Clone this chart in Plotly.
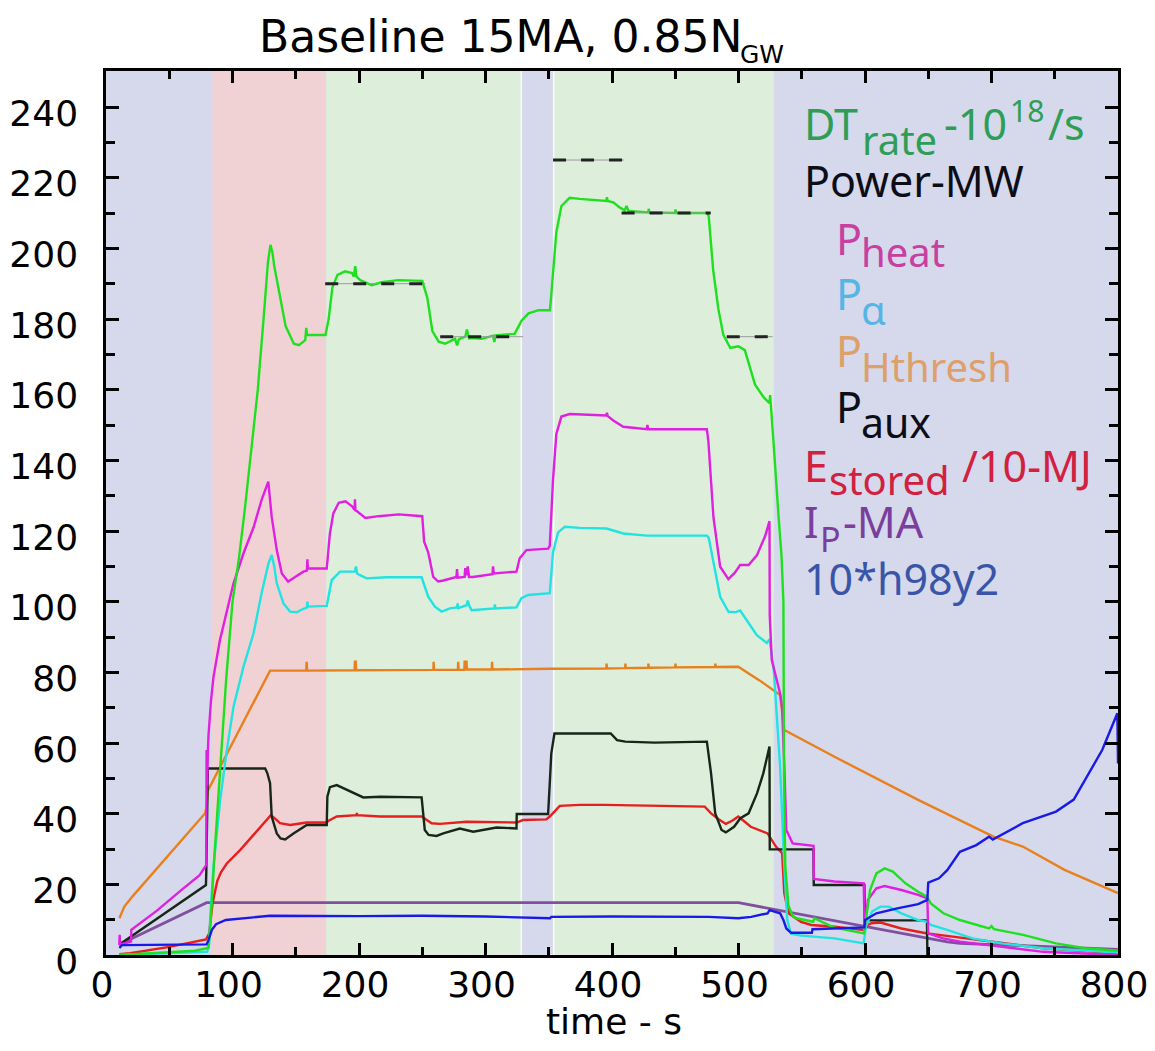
import plotly.graph_objects as go

# ---------------- data (time in s, values in axis units) ----------------
phase_edges = [0, 84, 174, 328.3, 353.9, 528, 800]
phase_names = ["ramp", "heat", "flat", "ramp", "flat", "ramp"]

dt_rate = [(11,0),(40,0.5),(70,1.2),(81,2),(82.5,8),(85.5,27),(90,50),(95,78),(100,100),(105,112),(110,127),
           (115,143),(120,160),(125,182),(128,196),(130,201),(131.5,199),(133,195),(137,187),(142,178),(148.5,173),
           (152.5,172.6),(157.5,174),(158.3,177.5),(159,175.5),(165,175.5),(173.5,175.5),(176,180),(179,189),
           (183,192.5),(189,193.5),(194.5,193),(196,192),(197,195),(198,192),(201,191),(210,189.6),(218,190.4),
           (231,191),(250,190.8),(254,186),(258,176.6),(263,173.6),(268,173),(276,174.4),(277.5,172.5),(279,174.3),
           (284,175),(285.3,177),(287,174.5),(289,174.6),(297,174.4),(306,175.3),(307,173.5),(308,175.4),(323,175.8),
           (328.5,179.5),(334,181.6),(342,182.5),(351,182.5),(353.4,192.8),(356,204.6),(360,212),(366.5,214.3),
           (374.5,214),(395.5,213.4),(396,214.5),(396.5,213.4),(401,213),(406,211.6),(410,210.8),(411.5,212),
           (413,210.6),(428.7,210.2),(429,211.2),(429.5,210.2),(449.8,210),(450.2,211),(450.8,210),(475.5,210),
           (476.5,209),(480,193.8),(484,183),(488,175.5),(493.5,171.8),(500,172.3),(505,171.2),(513,161.5),
           (520,157.8),(524.5,156.2),(525,158.5),(525.5,155.5),(527.7,145),(531.7,124),(534,113),(535.5,100),
           (536,50),(537,25),(539.5,14),(542.8,11),(546,10.4),(559,9.4),(560,10.4),(575,7.8),(592,6.6),(599,6.1),
           (600.7,9.9),(604,18.4),(609,23.1),(615.5,24.5),(622,23.6),(632,20.3),(642,17.9),(649,16.5),(652,14.6),
           (662,11.8),(675,9.9),(698,7.5),(700,8.2),(702,7.3),(725,5.7),(751,3.3),(774,1.9),(800,1.2)]

p_heat = [(10.5,2.8),(10.8,5.7),(11.2,3.0),(19.8,3.8),(20,7.1),(40,12.5),(60,18.5),(74,22.6),(79.3,25.5),
          (79.5,58),(80,48),(80.5,57),(81,62),(83,72),(85,78.8),(90,89),(95.5,97.6),(100.8,105.2),(108.7,113.7),
          (116.6,121),(123,128.8),(126.5,132.5),(128.3,134),(131,124),(135,114.6),(139,108),(144,105.7),
          (148,106.6),(156,108.5),(158.8,108.8),(159.2,112),(159.6,109.4),(174.5,109.4),(177,119.3),(179.7,125),
          (184,128),(189.3,128.4),(194.5,127),(196.5,126),(196.8,129),(197.2,125.8),(198.5,125.6),(205,123.7),
          (215.6,124.2),(231.4,124.7),(250,124.2),(251.5,117),(254.7,114),(258.7,107),(262.6,105.7),(266.6,106),
          (277,107),(277.5,109.2),(278,106.8),(283.5,107),(284,109.5),(285,107.5),(286,110),(287,107),(290,107),
          (305.5,107.8),(306,110),(306.5,108),(324.5,108.5),(327,112.3),(332.4,114.6),(349.5,115),(350.8,115.8),
          (353.4,134.6),(356,147.5),(360,152.4),(366.6,153.1),(395.5,152.7),(396,153.5),(396.5,152.6),(401,151.3),
          (408.9,149.5),(427.4,148.8),(428,150),(428.5,148.8),(475,148.8),(476.2,145.4),(480.2,123.9),
          (485.5,109.9),(492,106.4),(497.3,108.3),(501.3,110.4),(508,110.4),(514.5,113.1),(521,118.5),
          (524.5,122.8),(524.7,96),(526.3,83.5),(532.9,74),(534.5,70),(536.2,53.3),(537.8,35.4),(542.8,31.6),
          (559.3,30.9),(559.6,21.5),(575.9,20.8),(599,20.3),(599.7,7.1),(602.3,15.6),(609,18.9),(615.5,19.5),
          (628.8,18.4),(642,17),(649.3,16),(650,6.1),(661.8,4.7),(675,3.8),(708,2.4),(741,0.9),(800,0)]

p_alpha = [(11.3,0),(50,0.4),(80,0.9),(81.5,3),(82.4,10.8),(85,25),(90.3,43.9),(95.5,58),(100.8,70.3),
           (108.7,81.6),(116.6,91),(123,102.4),(128.4,110.8),(131,113.2),(133,110),(135,105.2),(140.3,99.5),
           (145.5,97.2),(150.8,97),(156,98),(158.8,98.3),(159.2,100),(159.6,98.6),(174.5,98.8),(178.4,106.1),
           (185,108.5),(192.9,108.5),(196.8,108.5),(197.6,110),(198.5,108),(200.8,107.5),(206,106.6),
           (221.8,106.9),(249.5,106.9),(254.7,101.4),(260,98.6),(265.3,97.2),(271.8,98.1),(277.5,98.4),(278,99.5),
           (278.5,98.2),(285,99),(286,100.3),(287,99),(289,97.6),(307,98.1),(307.4,99.2),(307.8,98.1),(324.5,98.4),
           (328.4,101),(333.7,101.9),(350.8,102.4),(353.4,114),(357.4,119.6),(362.7,121.2),(374.6,120.9),
           (395.7,120.7),(401,120.1),(408.9,119.3),(427.4,118.7),(475,118.7),(476.5,118),(480.2,111),
           (485.5,101.4),(492,97.2),(497.3,97),(501.3,97.5),(506.6,94.8),(514.5,90.5),(522.4,88.3),(524.5,89.4),
           (527.9,80.7),(529.6,72.2),(532.9,53.3),(536.2,25),(538.5,10),(541.5,6),(549.4,5.5),(559.3,5.2),
           (575.9,4.7),(599,3.3),(600.7,8),(605.6,12.3),(612.2,13.7),(618.8,13.7),(628.8,11.8),(642,9.9),
           (649.3,9.4),(652,8.5),(665,7.1),(685,4.7),(708,3.3),(741,1.9),(800,0.7)]

p_hthresh = [(10.6,10.4),(14.5,13.7),(21,16.6),(46,26.9),(78.4,40.1),(79.5,42),(80.5,46.5),(100,60),
             (129.7,80.5),(158.3,80.5),(158.6,83),(159,80.5),(196.5,80.6),(196.8,83),(197.5,83),(197.8,80.6),
             (258.8,80.7),(259,83),(259.3,80.7),(278.2,80.7),(278.4,83),(278.7,80.7),(283.3,80.7),(283.5,83),
             (285,83),(285.3,80.8),(305,80.8),(305.2,83),(305.5,80.8),(351,81),(395.5,81.1),(395.7,82.5),(396,81.1),
             (410.4,81.2),(410.6,82.5),(410.9,81.2),(428.6,81.3),(428.8,82.5),(429.1,81.3),(450,81.4),(450.2,82.5),
             (450.5,81.4),(481.5,81.5),(481.7,82.5),(482,81.5),(499.8,81.6),(516.3,77.8),(532.9,73.6),
             (536.2,63.7),(575.9,56.1),(642,43.9),(701.5,33.5),(724.7,30.7),(757.7,24.1),(800,17.5)]

p_aux = [(10.6,3.0),(79,19.8),(79.3,23.6),(80.5,52.8),(125.8,52.8),(127.5,51.5),(129.7,48.6),(131,39.2),
         (135,34.4),(138,33),(141.6,32.7),(148.2,34.4),(158.7,36.8),(174.5,36.8),(175,44.8),(177,47.5),
         (182.4,48.1),(190.3,46.7),(203.4,44.6),(216.6,44.8),(249.5,44.6),(252,35.4),(255,34),(261.3,33.7),
         (266.6,34.4),(279.7,35.8),(285,35.4),(290.3,34.9),(308.7,36.1),(324.5,35.8),(324.7,39.9),(349.5,39.9),
         (351,50),(352,57),(354.5,62.7),(399,62.7),(404,60.8),(410.5,60.4),(433.7,60.1),(475,60.4),(478.3,51.4),
         (481.6,40.1),(486.6,35.4),(490,34.7),(496.5,36.3),(501.5,38.7),(508,40.1),(514.7,45.8),(519.6,51.4),
         (524.5,59),(524.7,29.9),(559.3,29.9),(559.5,19.8),(599.5,19.8),(599.8,9.8),(649,9.8),(649.3,0)]

e_stored = [(10.6,0.2),(19,0.5),(50,2.3),(79,4.4),(81.5,6.1),(84.2,14.6),(88,21),(91,23.5),(95.5,25.9),
            (106,29.7),(116.6,34),(124.5,37.3),(130.3,39.6),(133,38.8),(137.6,37.3),(145.5,36.8),(158.7,37.5),
            (174.5,37.5),(176,38),(182.4,39.2),(198,39.6),(198.3,40.2),(198.6,39.6),(216.6,39.2),(249.5,39.2),
            (257.4,37.3),(264,37.1),(285,37.7),(307.4,37.5),(324.5,37.5),(329.7,38.2),(348,38.4),(350.8,39.2),
            (358.7,42.2),(374.5,42.5),(394,42.5),(473.3,42),(478.3,40.1),(484,38.5),(490,37.1),(495,38),
            (499.8,39.2),(504,38),(509.7,36.3),(523,34.4),(529.6,30.7),(534.5,28.8),(536.2,17.5),(539.5,11.8),
            (549.4,9.4),(557.5,8.5),(575.9,8),(599,7.1),(602.3,8.5),(605,9),(612.2,9.2),(628.8,7.5),(649.3,6.1),
            (658.5,5.7),(691.6,4.1),(741,1.9),(800,0.5)]

i_p = [(10.6,3.0),(79.5,14.8),(500,14.8),(542.8,11.9),(599,8.2),(642,5.2),(665,3.7),(675,3.3),(800,1.6)]

h98y2_x10 = [(10.6,2.0),(12.5,2.8),(79.5,3.0),(81,4.2),(83.7,7.1),(87,8.7),(94.7,9.9),(105,10.2),(119,10.8),
             (129.7,11.1),(200,11),(250,11.1),(300,10.9),(349.5,10.6),(351,10.4),(352,10.8),(400,10.9),
             (476.6,10.8),(499.8,10.4),(510,10.8),(523,11.8),(524.6,12.7),(532.9,11.8),(535.5,9.9),(537.8,7.5),
             (541.5,6.3),(558,6.3),(558.5,7.3),(597,7.8),(599.5,7.8),(600,9.9),(609,11.8),(625.5,13.2),(642,14.4),
             (649.3,15.6),(650,20.5),(658.5,21.7),(665,24),(675,29.2),(688,31.1),(698,33.5),(701,32.7),
             (724.7,37.3),(751,40.6),(765,44),(774,49.5),(787.5,58),(799.5,68.4),(800,54.2)]

# DT-rate targets: (t_start, t_end, value)
dt_targets = [(173.3, 252.4, 190), (264.2, 329.9, 175), (353.4, 409.4, 225), (407.6, 478, 210), (490.7, 527, 175)]

x_tick_vals = [0, 100, 200, 300, 400, 500, 600, 700, 800]
y_tick_vals = [0, 20, 40, 60, 80, 100, 120, 140, 160, 180, 200, 220, 240]

# ---------------- figure ----------------
L, R, T, Bm = 106, 37, 71, 96
FW, FH = 1155, 1051
W = FW - L - R
H = FH - T - Bm
BOT = FH - Bm
X_RANGE = [0, 800]
Y_RANGE = [0, 250.2]

phase_color = {"ramp": "#d5d9eb", "heat": "#f0d2d4", "flat": "#ddeedb"}

fig = go.Figure()
for i, name in enumerate(phase_names):
    fig.add_shape(type="rect", xref="x", yref="paper", x0=phase_edges[i], x1=phase_edges[i + 1], y0=0, y1=1,
                  fillcolor=phase_color[name], line=dict(width=0), layer="below")
for e in (phase_edges[3], phase_edges[4]):
    fig.add_shape(type="line", xref="x", yref="paper", x0=e, x1=e, y0=0, y1=1,
                  line=dict(color="rgba(255,255,255,0.85)", width=1.5), layer="below")

def add_series(pairs, color, width=2.4):
    fig.add_trace(go.Scatter(x=[p[0] for p in pairs], y=[p[1] for p in pairs], mode="lines",
                             line=dict(color=color, width=width), hoverinfo="skip"))

add_series(p_hthresh, "#e8801e")
add_series(i_p, "#80509f", 2.8)
add_series(e_stored, "#e61e1e")
add_series(p_aux, "#18261a")
add_series(p_alpha, "#22e3e0")
add_series(p_heat, "#e020e0")
add_series(dt_rate, "#1fe01f")
add_series(h98y2_x10, "#1a1ae8")

for t0, t1, v in dt_targets:
    fig.add_trace(go.Scatter(x=[t0, t1], y=[v, v], mode="lines",
                             line=dict(color="#9a9a9a", width=1), hoverinfo="skip"))
    fig.add_trace(go.Scatter(x=[t0, t1], y=[v, v], mode="lines",
                             line=dict(color="#222222", width=3, dash="13px,15px"), hoverinfo="skip"))

# dummy trace so the mirrored tick axes exist
fig.add_trace(go.Scatter(x=[None], y=[None], xaxis="x2", yaxis="y2", mode="lines", showlegend=False,
                         hoverinfo="skip"))

tick_font = dict(family="DejaVu Sans", size=36, color="black")
common = dict(showline=True, linewidth=2.5, linecolor="black", ticks="inside", tickcolor="black",
              tickwidth=2.5, showgrid=False, zeroline=False, automargin=False, tickfont=tick_font)

x_minor = dict(ticks="inside", dtick=50, ticklen=8, tickwidth=2.5, tickcolor="black", showgrid=False)
y_minor = dict(ticks="inside", dtick=10, ticklen=9, tickwidth=2.5, tickcolor="black", showgrid=False)

fig.update_layout(
    template="none",
    width=FW, height=FH, margin=dict(l=L, r=R, t=T, b=Bm, autoexpand=False), paper_bgcolor="white",
    plot_bgcolor=phase_color["ramp"], showlegend=False,
    xaxis=dict(range=X_RANGE, tickvals=x_tick_vals, ticktext=[str(v) for v in x_tick_vals], ticklen=12,
               minor=x_minor, ticklabelstandoff=-4, ticklabelshift=-4, mirror=True, **common),
    yaxis=dict(range=Y_RANGE, tickvals=y_tick_vals, ticktext=[str(v) for v in y_tick_vals], ticklen=13,
               minor=y_minor, ticklabelstandoff=18, ticklabelshift=6, mirror=True, **common),
    xaxis2=dict(range=X_RANGE, overlaying="x", side="top", anchor="y", tickvals=x_tick_vals, ticklen=12,
                minor=x_minor, showticklabels=False, showline=False, ticks="inside", tickcolor="black",
                tickwidth=2.5, showgrid=False, zeroline=False, automargin=False),
    yaxis2=dict(range=Y_RANGE, overlaying="y", side="right", anchor="x", tickvals=y_tick_vals, ticklen=13,
                minor=y_minor, showticklabels=False, showline=False, ticks="inside", tickcolor="black",
                tickwidth=2.5, showgrid=False, zeroline=False, automargin=False),
)

def label(s, xpx, base, size, color, family="Noto Sans"):
    k = 0.388 if family == "Noto Sans" else 0.346
    cy = base - k * size
    fig.add_annotation(x=(xpx - L) / W, y=(BOT - cy) / H, xref="paper", yref="paper", text=s, showarrow=False,
                       xanchor="left", yanchor="middle", borderpad=0,
                       font=dict(family=family, size=size, color=color))

# title and axis title
label("Baseline 15MA, 0.85N", 258, 52, 44, "black", "DejaVu Sans")
label("GW", 739, 63, 25, "black", "DejaVu Sans")
fig.add_annotation(x=(614 - L) / W, y=(BOT - (1034 - 0.346 * 36)) / H, xref="paper", yref="paper",
                   text="time - s", showarrow=False, xanchor="center", yanchor="middle",
                   font=dict(family="DejaVu Sans", size=36, color="black"))

# in-plot legend
c_dt, c_blk, c_heat, c_al, c_th, c_e, c_ip, c_h = ("#2e9e57", "#0d0d18", "#c83fa0", "#55b5e5",
                                                   "#dea06a", "#d2203f", "#7b3e9c", "#3a55a8")
label("DT", 803, 140, 43, c_dt)
label("rate", 861, 155, 40, c_dt)
label("-10", 943, 140, 43, c_dt)
label("18", 1009, 122, 30, c_dt)
label("/s", 1047, 140, 43, c_dt)
label("Power-MW", 803, 197, 43, c_blk)
label("P", 835, 255, 43, c_heat)
label("heat", 860, 267, 40, c_heat)
label("P", 835, 310, 43, c_al)
label("α", 860, 325, 40, c_al)
label("P", 835, 367, 43, c_th)
label("Hthresh", 860, 382, 40, c_th)
label("P", 835, 423, 43, c_blk)
label("aux", 860, 438, 41, c_blk)
label("E", 803, 482, 43, c_e)
label("stored", 828, 495, 40, c_e)
label("/10-MJ", 961, 482, 43, c_e)
label("I", 803, 538, 43, c_ip)
label("P", 819, 552, 34, c_ip)
label("-MA", 842, 538, 43, c_ip)
label("10*h98y2", 803, 595, 43, c_h)

fig.write_html("out.html")
